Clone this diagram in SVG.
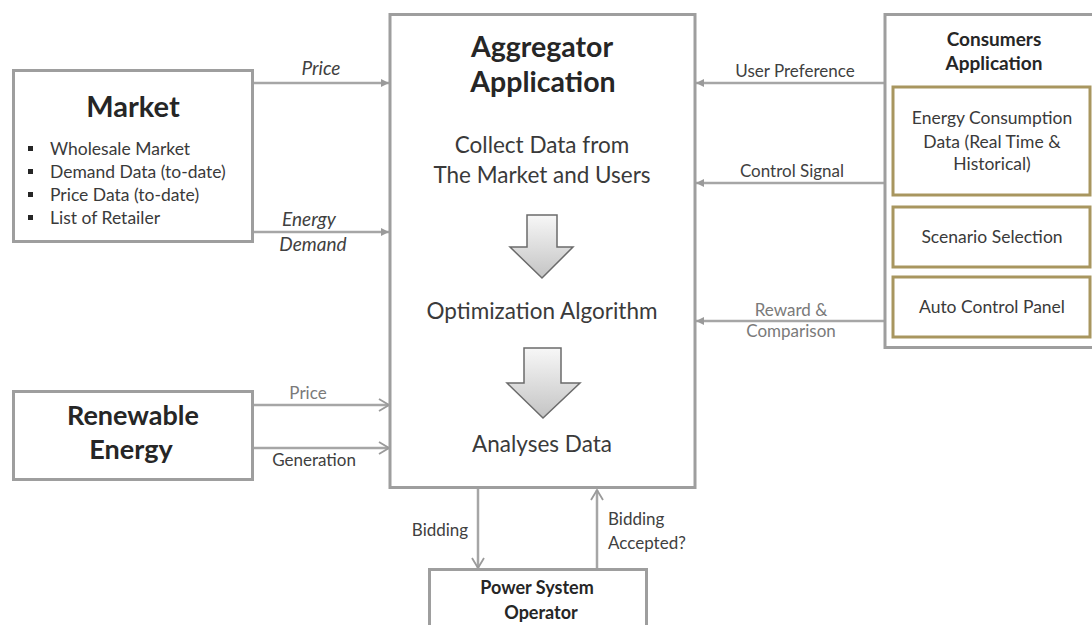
<svg xmlns="http://www.w3.org/2000/svg" width="1092" height="625" viewBox="0 0 1092 625">
  <defs>
    <style>
      .box { fill: #ffffff; stroke: #9e9e9e; stroke-width: 3; }
      .sub { fill: #ffffff; stroke: #a8965f; stroke-width: 3; }
      .link { stroke: #a6a6a6; stroke-width: 2.5; fill: none; }
      .title { font-family: "Lato", "Liberation Sans", sans-serif; font-weight: bold; fill: #262626; text-anchor: middle; }
      .body { font-family: "Lato", "Liberation Sans", sans-serif; fill: #3a3a3a; text-anchor: middle; }
      .lbl { font-family: "Lato", "Liberation Sans", sans-serif; fill: #404040; font-size: 17px; text-anchor: middle; }
      .it { font-style: italic; font-size: 19px; }
      .pale { fill: #7a7a7a; }
      .flow { fill: url(#flowFill); stroke: #6b6b6b; stroke-width: 1.5; stroke-linejoin: miter; }
    </style>
    <linearGradient id="flowFill" x1="0" y1="0" x2="0" y2="1">
      <stop offset="0" stop-color="#f7f7f7"/>
      <stop offset="1" stop-color="#c4c4c4"/>
    </linearGradient>
    <marker id="tri" viewBox="0 0 10 10" refX="10" refY="5" markerWidth="9" markerHeight="8" markerUnits="userSpaceOnUse" orient="auto">
      <path d="M0,0 L10,5 L0,10 Z" fill="#9a9a9a"/>
    </marker>
    <marker id="chev" viewBox="0 0 12 14" refX="11" refY="7" markerWidth="12" markerHeight="14" markerUnits="userSpaceOnUse" orient="auto">
      <path d="M1,1 L11,7 L1,13" fill="none" stroke="#9a9a9a" stroke-width="1.8"/>
    </marker>
  </defs>

  <rect width="1092" height="625" fill="#ffffff"/>

  <!-- connectors -->
  <g id="connectors">
    <line class="link" x1="253" y1="83" x2="389" y2="83" marker-end="url(#tri)"/>
    <line class="link" x1="253" y1="232" x2="389" y2="232" marker-end="url(#tri)"/>
    <line class="link" x1="884" y1="83" x2="696" y2="83" marker-end="url(#tri)"/>
    <line class="link" x1="884" y1="183" x2="696" y2="183" marker-end="url(#tri)"/>
    <line class="link" x1="884" y1="321" x2="696" y2="321" marker-end="url(#tri)"/>
    <line class="link" x1="254" y1="405" x2="389" y2="405" marker-end="url(#chev)"/>
    <line class="link" x1="254" y1="448" x2="389" y2="448" marker-end="url(#chev)"/>
    <line class="link" x1="478" y1="489" x2="478" y2="568" marker-end="url(#chev)"/>
    <line class="link" x1="597" y1="568" x2="597" y2="490" marker-end="url(#chev)"/>

    <text class="lbl it" x="321" y="75">Price</text>
    <text class="lbl it" x="309" y="226">Energy</text>
    <text class="lbl it" x="313" y="251">Demand</text>
    <text class="lbl" x="795" y="77">User Preference</text>
    <text class="lbl" x="792" y="177">Control Signal</text>
    <text class="lbl pale" x="791" y="316" font-size="15">Reward &amp;</text>
    <text class="lbl pale" x="791" y="337" font-size="15">Comparison</text>
    <text class="lbl pale" x="308" y="399" font-size="16">Price</text>
    <text class="lbl" x="314" y="466">Generation</text>
    <text class="lbl" x="440" y="536">Bidding</text>
    <text class="lbl" x="608" y="525" style="text-anchor:start">Bidding</text>
    <text class="lbl" x="608" y="549" style="text-anchor:start">Accepted?</text>
  </g>

  <!-- market -->
  <g id="market">
    <rect class="box" x="13.5" y="70.5" width="239" height="171"/>
    <text class="title" x="133" y="117" font-size="29">Market</text>
    <g fill="#262626">
      <rect x="28" y="146" width="5" height="5"/>
      <rect x="28" y="169" width="5" height="5"/>
      <rect x="28" y="192" width="5" height="5"/>
      <rect x="28" y="215" width="5" height="5"/>
    </g>
    <g class="body" style="text-anchor:start" font-size="17.5">
      <text x="50" y="155">Wholesale Market</text>
      <text x="50" y="178">Demand Data (to-date)</text>
      <text x="50" y="201">Price Data (to-date)</text>
      <text x="50" y="224">List of Retailer</text>
    </g>
  </g>

  <!-- aggregator -->
  <g id="aggregator">
    <rect class="box" x="390" y="14.5" width="305" height="473"/>
    <text class="title" x="542" y="57" font-size="28.5">Aggregator</text>
    <text class="title" x="543" y="92" font-size="28.5">Application</text>
    <text class="body" x="542" y="153" font-size="22.5">Collect Data from</text>
    <text class="body" x="542" y="183" font-size="22.5">The Market and Users</text>
    <path class="flow" d="M527,215 H557 V247 H573 L542,278 L510,247 H527 Z"/>
    <text class="body" x="542" y="319" font-size="22.5">Optimization Algorithm</text>
    <path class="flow" d="M524,348 H561 V383 H580 L543,418 L507,383 H524 Z"/>
    <text class="body" x="542" y="452" font-size="22.5">Analyses Data</text>
  </g>

  <!-- consumers -->
  <g id="consumers">
    <rect class="box" x="885" y="14.5" width="215" height="333"/>
    <text class="title" x="994" y="46" font-size="19">Consumers</text>
    <text class="title" x="994" y="70" font-size="19">Application</text>
    <g id="consumption-data">
      <rect class="sub" x="893" y="87" width="197" height="108"/>
      <text class="body" x="992" y="124" font-size="17.5">Energy Consumption</text>
      <text class="body" x="992" y="148" font-size="17.5">Data (Real Time &amp;</text>
      <text class="body" x="992" y="170" font-size="17.5">Historical)</text>
    </g>
    <g id="scenario-selection">
      <rect class="sub" x="893" y="207" width="197" height="60"/>
      <text class="body" x="992" y="243" font-size="17.5">Scenario Selection</text>
    </g>
    <g id="auto-control">
      <rect class="sub" x="893" y="277" width="197" height="60"/>
      <text class="body" x="992" y="313" font-size="17.5">Auto Control Panel</text>
    </g>
  </g>

  <!-- renewable energy -->
  <g id="renewable">
    <rect class="box" x="13.5" y="391.5" width="239" height="88"/>
    <text class="title" x="133" y="425" font-size="27">Renewable</text>
    <text class="title" x="131" y="459" font-size="27">Energy</text>
  </g>

  <!-- power system operator -->
  <g id="operator">
    <rect class="box" x="429.5" y="569.5" width="217" height="80"/>
    <text class="title" x="537" y="594" font-size="18">Power System</text>
    <text class="title" x="541" y="619" font-size="18">Operator</text>
  </g>
</svg>
